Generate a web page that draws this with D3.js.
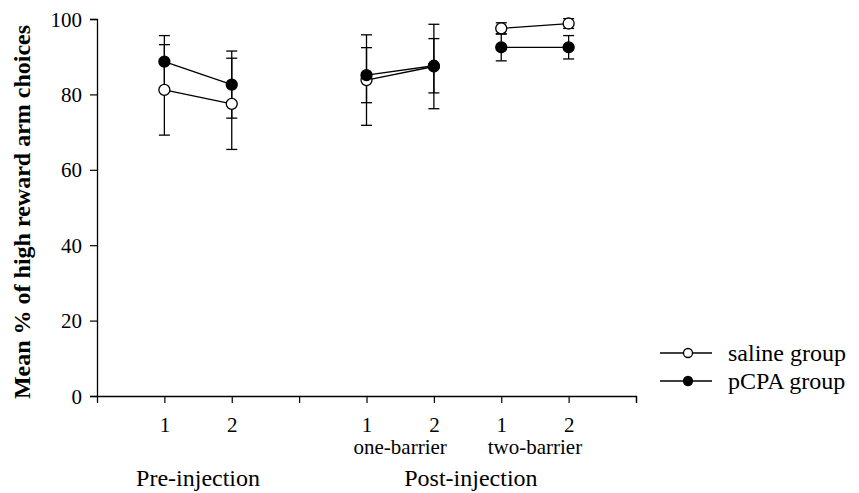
<!DOCTYPE html>
<html>
<head>
<meta charset="utf-8">
<script src="https://cdn.jsdelivr.net/npm/d3@7"></script>
<style>
  body { margin: 0; background: #fff; }
  svg { display: block; font-family: "Liberation Serif", "Times New Roman", serif; }
</style>
</head>
<body>
<svg width="859" height="493"></svg>
<script>
// positions on the x axis (3 is the empty gap between phases)
const xPos = [1, 2, 4, 5, 6, 7];
const tickLabels = ['1', '2', '', '1', '2', '1', '2', ''];
const segments = ['pre', 'pre', 'one', 'one', 'two', 'two'];
const subLabels = [{name: 'one-barrier', at: 4.5}, {name: 'two-barrier', at: 6.5}];
const phaseLabels = [{name: 'Pre-injection', at: 1.5}, {name: 'Post-injection', at: 5.55}];

const saline = [81.2, 77.5, 83.8, 87.4, 97.5, 98.8];
const salineErr = [12.0, 12.1, 12.0, 11.2, 1.5, 1.3];
const pcpa = [88.7, 82.6, 85.1, 87.6, 92.5, 92.5];
const pcpaErr = [6.9, 8.9, 7.3, 7.2, 3.6, 3.1];

const yTicks = [0, 20, 40, 60, 80, 100];

const svg = d3.select('svg');
const x = d3.scaleLinear().domain([0, 8]).range([97, 636]);
const y = d3.scaleLinear().domain([0, 100]).range([396, 19]);

// axes
const yAxis = svg.append('g')
    .attr('transform', `translate(${x(0)},0)`)
    .call(d3.axisLeft(y).tickValues(yTicks).tickSize(7).tickPadding(8));
const xAxis = svg.append('g')
    .attr('transform', `translate(0,${y(0)})`)
    .call(d3.axisBottom(x).tickValues(d3.range(1, 9)).tickSize(7).tickPadding(14)
        .tickFormat((d, i) => tickLabels[i]));
[yAxis, xAxis].forEach(g => {
    g.select('.domain').attr('stroke', '#000').attr('stroke-width', 1.3);
    g.selectAll('.tick line').attr('stroke', '#000').attr('stroke-width', 1.2);
    g.selectAll('text').attr('fill', '#000')
        .style('font-family', '"Liberation Serif", serif').style('font-size', '21px');
});
yAxis.selectAll('text').attr('dy', '0.34em');

svg.selectAll('text.sub')
    .data(subLabels).enter().append('text')
    .attr('class', 'sub')
    .attr('x', d => x(d.at)).attr('y', 454)
    .attr('text-anchor', 'middle')
    .style('font-size', '21px')
    .text(d => d.name);

svg.selectAll('text.phase')
    .data(phaseLabels).enter().append('text')
    .attr('class', 'phase')
    .attr('x', d => x(d.at)).attr('y', 486)
    .attr('text-anchor', 'middle')
    .style('font-size', '24px')
    .text(d => d.name);

svg.append('text')
    .attr('transform', 'translate(30,212) rotate(-90)')
    .attr('text-anchor', 'middle')
    .style('font-size', '24px')
    .style('font-weight', 'bold')
    .text('Mean % of high reward arm choices');

// series
const series = [
    {name: 'saline group', vals: saline, err: salineErr, fill: '#fff'},
    {name: 'pCPA group', vals: pcpa, err: pcpaErr, fill: '#000'}
];
const capW = 5.5;

series.forEach(s => {
    const pts = xPos.map((p, i) => ({x: p, v: s.vals[i], e: s.err[i], seg: segments[i]}));
    const eb = svg.append('g').attr('stroke', '#000').attr('stroke-width', 1.3);
    pts.forEach(d => {
        eb.append('line').attr('x1', x(d.x)).attr('x2', x(d.x))
            .attr('y1', y(d.v - d.e)).attr('y2', y(d.v + d.e));
        [d.v - d.e, d.v + d.e].forEach(v => {
            eb.append('line').attr('x1', x(d.x) - capW).attr('x2', x(d.x) + capW)
                .attr('y1', y(v)).attr('y2', y(v));
        });
    });
});

series.forEach(s => {
    const pts = xPos.map((p, i) => ({x: p, v: s.vals[i], seg: segments[i]}));
    d3.groups(pts, d => d.seg).forEach(([, g]) => {
        svg.append('path').datum(g)
            .attr('fill', 'none').attr('stroke', '#000').attr('stroke-width', 1.3)
            .attr('d', d3.line().x(d => x(d.x)).y(d => y(d.v)));
    });
});

series.forEach(s => {
    svg.append('g').selectAll('circle')
        .data(xPos.map((p, i) => ({x: p, v: s.vals[i]})))
        .enter().append('circle')
        .attr('cx', d => x(d.x)).attr('cy', d => y(d.v)).attr('r', 5.5)
        .attr('fill', s.fill).attr('stroke', '#000').attr('stroke-width', 1.3);
});

// legend
const legend = svg.append('g').attr('transform', 'translate(660,353)');
series.forEach((s, i) => {
    const row = legend.append('g').attr('transform', `translate(0,${i * 28})`);
    row.append('line').attr('x1', 0).attr('x2', 52).attr('stroke', '#000').attr('stroke-width', 1.3);
    row.append('circle').attr('cx', 28).attr('r', 4.5)
        .attr('fill', s.fill).attr('stroke', '#000').attr('stroke-width', 1.3);
    row.append('text').attr('x', 68).attr('dy', '0.32em')
        .style('font-size', '24px').text(s.name);
});
</script>
</body>
</html>
